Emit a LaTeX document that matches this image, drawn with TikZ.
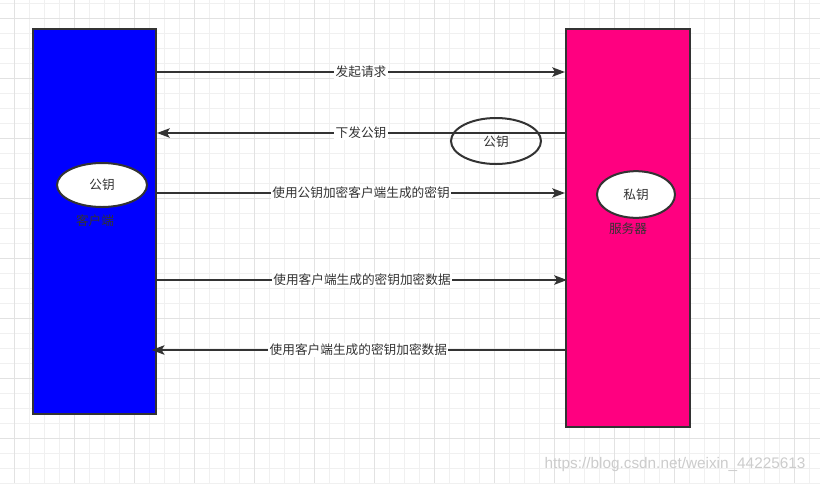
\documentclass[tikz,border=0pt]{standalone}
\usepackage{fontspec}
\setmainfont{Noto Sans CJK SC}
\newfontfamily\markfont{Liberation Sans}
\usetikzlibrary{shapes.geometric,arrows.meta}

\definecolor{edgegray}{HTML}{333333}
\definecolor{gridminor}{HTML}{F0F0F0}
\definecolor{gridmajor}{HTML}{E2E2E2}
\definecolor{clientblue}{HTML}{0000FF}
\definecolor{serverpink}{HTML}{FF0080}

\begin{document}
\begin{tikzpicture}[x=0.75pt,y=-0.75pt,>={Stealth[length=9.5pt,width=7pt,inset=2pt]},
    side box/.style={rectangle,draw=edgegray,line width=1.5pt,inner sep=0},
    key node/.style={ellipse,draw=edgegray,line width=1.5pt,inner sep=0,text=edgegray,font=\fontsize{9.5}{11}\selectfont},
    msg line/.style={->,draw=edgegray,line width=1.5pt},
    msg/.style={fill=white,inner sep=1pt,text=edgegray,font=\fontsize{9.5}{11}\selectfont}]
                \useasboundingbox (0,0) rectangle (820,483);
                \fill[white] (0,0) rectangle (820,483);

                % grid
                \foreach \gx in {-1,14,...,820} \draw[gridminor,line width=0.75pt] (\gx,0) -- (\gx,483);
                \foreach \gy in {3,18,...,483} \draw[gridminor,line width=0.75pt] (0,\gy) -- (820,\gy);
                \foreach \gx in {14,74,...,820} \draw[gridmajor,line width=0.75pt] (\gx,0) -- (\gx,483);
                \foreach \gy in {18,78,...,483} \draw[gridmajor,line width=0.75pt] (0,\gy) -- (820,\gy);

                \node[side box,fill=clientblue,minimum width=92.25pt,minimum height=288.75pt] (client) at (94.5,221.5) {};
                \node[side box,fill=serverpink,minimum width=93pt,minimum height=298.5pt] (server) at (628,228) {};

                \node[key node,fill=white,minimum width=67.5pt,minimum height=33pt] (clientkey) at (102,185) {公钥};
                \node[text=edgegray,font=\fontsize{9.5}{11}\selectfont] (clientname) at (95,221) {客户端};
                \node[key node,fill=white,minimum width=58.5pt,minimum height=35pt] (serverkey) at (636,194.5) {私钥};
                \node[text=edgegray,font=\fontsize{9.5}{11}\selectfont] (servername) at (628,229) {服务器};

                \draw[msg line] (client.east |- 0,72) -- node[msg]{发起请求} (server.west |- 0,72);
                \draw[msg line] (server.west |- 0,133) -- node[msg]{下发公钥} (client.east |- 0,133);
                \draw[msg line] (client.east |- 0,193) -- node[msg]{使用公钥加密客户端生成的密钥} (server.west |- 0,193);
                \draw[msg line] (client.east |- 0,280) -- node[msg]{使用客户端生成的密钥加密数据} ([xshift=1.5pt]server.west |- 0,280);
                \draw[msg line] (server.west |- 0,350) -- node[msg]{使用客户端生成的密钥加密数据} ([xshift=-4pt]client.east |- 0,350);

                \node[key node,minimum width=67.5pt,minimum height=34.5pt] (sentkey) at (496,141) {};
                \node[text=edgegray,font=\fontsize{9.5}{11}\selectfont] (sentkeytext) at (496,142) {公钥};

                \node[text=gray!40,font=\markfont\fontsize{11.5}{13}\selectfont] (mark) at (675,465) {https://blog.csdn.net/weixin\_44225613};

            \end{tikzpicture}
\end{document}
